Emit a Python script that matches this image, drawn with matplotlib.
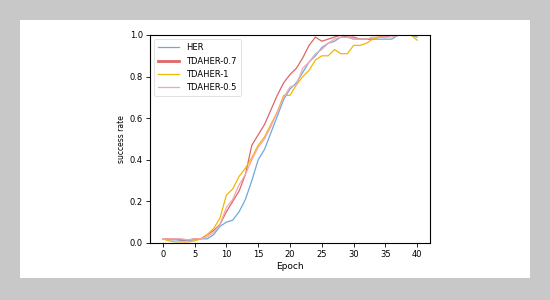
import matplotlib.pyplot as plt
import numpy as np
from matplotlib.patches import Rectangle

epochs = np.arange(41)

her = [0.02, 0.015, 0.015, 0.012, 0.012, 0.015, 0.02, 0.02, 0.04, 0.08,
       0.10, 0.11, 0.15, 0.21, 0.30, 0.40, 0.45, 0.53, 0.61, 0.69,
       0.74, 0.77, 0.82, 0.87, 0.90, 0.94, 0.96, 0.97, 0.99, 0.99,
       0.98, 0.98, 0.98, 0.98, 0.98, 0.98, 0.98, 1.0, 1.0, 1.0, 0.99]
tdaher_07 = [0.02, 0.02, 0.02, 0.015, 0.015, 0.02, 0.02, 0.04, 0.06, 0.09,
             0.15, 0.20, 0.25, 0.33, 0.47, 0.52, 0.57, 0.64, 0.71, 0.77,
             0.81, 0.84, 0.89, 0.95, 0.99, 0.97, 0.98, 0.99, 1.0, 0.99,
             0.99, 0.98, 0.98, 0.98, 0.99, 0.99, 1.0, 1.0, 1.0, 1.0, 1.0]
tdaher_1 = [0.02, 0.01, 0.005, 0.005, 0.005, 0.01, 0.02, 0.04, 0.07, 0.12,
            0.23, 0.26, 0.32, 0.36, 0.41, 0.47, 0.51, 0.57, 0.63, 0.71,
            0.71, 0.76, 0.80, 0.83, 0.88, 0.90, 0.90, 0.93, 0.91, 0.91,
            0.95, 0.95, 0.96, 0.98, 0.99, 1.0, 1.0, 1.0, 1.0, 1.0, 0.975]
tdaher_05 = [0.02, 0.02, 0.02, 0.02, 0.015, 0.02, 0.02, 0.03, 0.05, 0.09,
             0.17, 0.21, 0.28, 0.33, 0.40, 0.46, 0.50, 0.56, 0.63, 0.70,
             0.75, 0.76, 0.84, 0.87, 0.91, 0.93, 0.96, 0.98, 0.99, 0.99,
             0.98, 0.98, 0.98, 0.99, 0.99, 0.99, 0.99, 1.0, 1.0, 1.0, 1.0]

fig = plt.figure(figsize=(5.5, 3), dpi=100)
fig.patch.set_facecolor('#c8c8c8')
# white card behind the chart
fig.patches.append(Rectangle((20 / 550, 22 / 300), 510 / 550, 258 / 300,
                             transform=fig.transFigure, facecolor='white',
                             edgecolor='none', zorder=-10))

ax = fig.add_axes([150 / 550, 57 / 300, 280 / 550, 208 / 300])
ax.plot(epochs, her, color='#6fa8dc', linewidth=0.9, label='HER')
ax.plot(epochs, tdaher_07, color='#e06666', linewidth=0.9, label='TDAHER-0.7')
ax.plot(epochs, tdaher_1, color='#f1b800', linewidth=0.9, label='TDAHER-1')
ax.plot(epochs, tdaher_05, color='#f4a7b3', linewidth=0.9, label='TDAHER-0.5')

ax.set_xlim(-2, 42)
ax.set_ylim(0, 1.0)
ax.set_xticks(range(0, 41, 5))
ax.set_yticks([0.0, 0.2, 0.4, 0.6, 0.8, 1.0])
ax.tick_params(labelsize=6, length=3, width=0.6, pad=2)
for s in ax.spines.values():
    s.set_linewidth(0.8)
ax.set_xlabel('Epoch', fontsize=6.5, labelpad=2)
ax.set_ylabel('success rate', fontsize=5.5, labelpad=3)

leg = ax.legend(loc='upper left', fontsize=6, frameon=True, handlelength=2.5,
                borderpad=0.5, labelspacing=0.5)
leg.get_lines()[1].set_linewidth(2)
leg.get_frame().set_linewidth(0.5)

plt.savefig('out.png', dpi=100, facecolor=fig.get_facecolor())
